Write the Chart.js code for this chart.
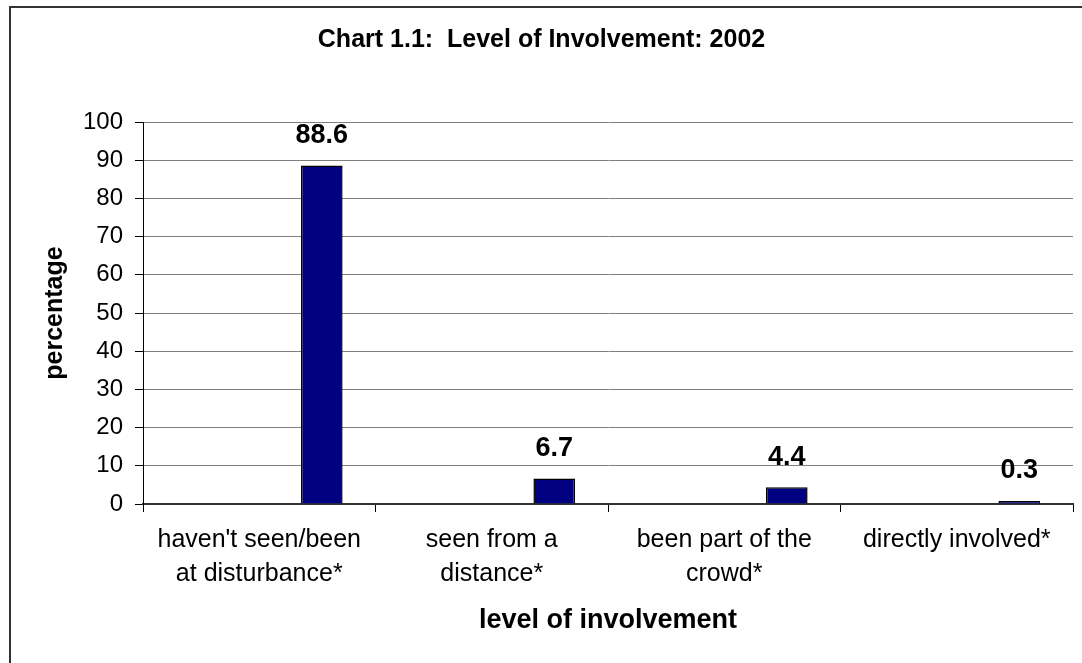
<!DOCTYPE html>
<html>
<head>
<meta charset="utf-8">
<script src="https://cdn.jsdelivr.net/npm/chart.js@4"></script>
<style>
  body { margin: 0; background: #fff; }
  #wrap { position: relative; width: 1082px; height: 663px; }
</style>
</head>
<body>
<div id="wrap"><canvas id="chart"></canvas></div>
<script>
const categories = [
    ["haven't seen/been", "at disturbance*"],
    ["seen from a", "distance*"],
    ["been part of the", "crowd*"],
    ["directly involved*"]
];
const percentages = [88.6, 6.7, 4.4, 0.3];
// the excel sheet had three empty series before the real one, which is why bars sit right of centre
const emptySeries = [null, null, null, null];
const yTicks = [0, 10, 20, 30, 40, 50, 60, 70, 80, 90, 100];

const FONT = "'Liberation Sans', Arial, sans-serif";
Chart.defaults.color = "#000";
Chart.defaults.font.family = FONT;

const frame = {
    id: "frame",
    afterDraw(chart) {
        const ctx = chart.ctx;
        ctx.save();
        ctx.strokeStyle = "#333";
        ctx.lineWidth = 2;
        ctx.beginPath();
        ctx.moveTo(10, 663);
        ctx.lineTo(10, 7);
        ctx.lineTo(1082, 7);
        ctx.stroke();
        ctx.restore();
    }
};

const valueLabels = {
    id: "valueLabels",
    afterDatasetsDraw(chart) {
        const ctx = chart.ctx;
        const meta = chart.getDatasetMeta(3);
        ctx.save();
        ctx.font = "bold 27px " + FONT;
        ctx.fillStyle = "#000";
        ctx.textAlign = "center";
        ctx.textBaseline = "middle";
        meta.data.forEach((bar, i) => {
            ctx.fillText(percentages[i].toFixed(1), bar.x, bar.y - 30);
        });
        ctx.restore();
    }
};

function blank(label) {
    return { label: label, data: emptySeries, backgroundColor: "#000080" };
}

new Chart(document.getElementById("chart"), {
    type: "bar",
    data: {
        labels: categories,
        datasets: [
            blank("a"), blank("b"), blank("c"),
            {
                label: "percentage",
                data: percentages,
                backgroundColor: "#000080",
                borderColor: "#000",
                borderWidth: 1.5,
                minBarLength: 3
            }
        ]
    },
    options: {
        responsive: true,
        maintainAspectRatio: false,
        animation: false,
        categoryPercentage: 0.717,
        barPercentage: 1,
        layout: { padding: { left: 10, right: 9, top: 0, bottom: 0 } },
        plugins: {
            legend: { display: false },
            tooltip: { enabled: false },
            title: {
                display: true,
                text: "Chart 1.1:  Level of Involvement: 2002",
                font: { size: 25, weight: "bold" },
                color: "#000",
                padding: { top: 25, bottom: 67 }
            }
        },
        scales: {
            x: {
                offset: true,
                afterFit(s) { s.height = 159; },
                grid: {
                    offset: true,
                    color: ctx => ctx.index === categories.length ? "#808080" : "rgba(0,0,0,0)",
                    tickColor: "#000",
                    tickLength: 8
                },
                border: { color: "#333", width: 2 },
                ticks: {
                    font: { size: 25, lineHeight: 1.36 },
                    padding: 11,
                    maxRotation: 0,
                    autoSkip: false
                },
                title: {
                    display: true,
                    text: "level of involvement",
                    font: { size: 27, weight: "bold" },
                    padding: { top: 0, bottom: 26 }
                }
            },
            y: {
                min: 0,
                max: 100,
                afterFit(s) { s.width = 133; },
                afterBuildTicks(s) { s.ticks = yTicks.map(v => ({ value: v })); },
                grid: { color: "#808080", tickColor: "#000", tickLength: 8 },
                border: { color: "#000", width: 1 },
                ticks: { font: { size: 24 }, padding: 12 },
                title: {
                    display: true,
                    text: "percentage",
                    font: { size: 25, weight: "bold" },
                    padding: { top: 30, bottom: 0 }
                }
            }
        }
    },
    plugins: [frame, valueLabels]
});
</script>
</body>
</html>
